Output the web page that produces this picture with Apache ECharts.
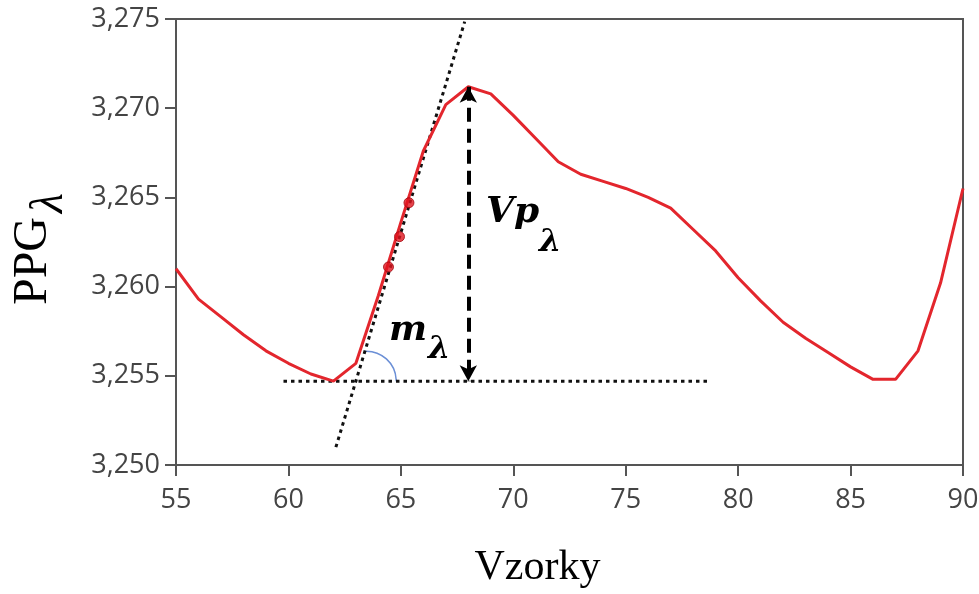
<!DOCTYPE html>
<html>
<head>
<meta charset="utf-8">
<script src="https://cdn.jsdelivr.net/npm/echarts@6/dist/echarts.min.js"></script>
<style>html,body{margin:0;padding:0;background:#fff}#c{width:979px;height:594px}</style>
</head>
<body>
<div id="c"></div>
<script>
// ---- data ----
const samples = [55,56,57,58,59,60,61,62,63,64,65,66,67,68,69,70,71,72,73,74,75,76,77,78,79,80,81,82,83,84,85,86,87,88,89,90];
const ppg = [3.2610,3.2593,3.2583,3.2573,3.2564,3.2557,3.2551,3.2547,3.2557,3.2595,3.2636,3.2676,3.2702,3.2712,3.2708,3.2696,3.2683,3.2670,3.2663,3.2659,3.2655,3.2650,3.2644,3.2632,3.2620,3.2605,3.2592,3.2580,3.2571,3.2563,3.2555,3.2548,3.2548,3.2564,3.2602,3.2655];
const slopeDots = [[64.45,3.2611],[64.94,3.2628],[65.36,3.2647]];
const tangentLine = [[62.11,3.2510],[67.84,3.27485]];
const baseLine = [[59.78,3.2547],[78.63,3.2547]];
const peakArrow = [[68.0,3.2712],[68.0,3.2547]];
const arcCenter = [63.46,3.2547];
const xTicks = {min:55, max:90, step:5};
const yTicks = {min:3.250, max:3.275, step:0.005};

const curve = samples.map((x,i)=>[x, ppg[i]]);

const chart = echarts.init(document.getElementById('c'), null, {renderer:'canvas'});
const axisGray = '#555';
const labelGray = '#444';
chart.setOption({
  animation:false,
  grid:{left:176, right:16, top:19, bottom:129, show:true, borderColor:axisGray, borderWidth:2,
    containLabel:false, outerBoundsMode:'none'},
  xAxis:{
    type:'value', min:xTicks.min, max:xTicks.max, interval:xTicks.step,
    name:'Vzorky', nameLocation:'middle', nameGap:82,
    nameTextStyle:{fontFamily:'Liberation Serif', fontSize:42, color:'#000', padding:[0,64,0,0]},
    axisLine:{show:true, onZero:false, lineStyle:{color:axisGray, width:2}},
    axisTick:{show:true, length:11, lineStyle:{color:axisGray, width:2}},
    axisLabel:{fontFamily:'Open Sans', fontSize:27, color:labelGray, margin:22},
    splitLine:{show:false}
  },
  yAxis:{
    type:'value', min:yTicks.min, max:yTicks.max, interval:yTicks.step,
    axisLine:{show:true, onZero:false, lineStyle:{color:axisGray, width:2}},
    axisTick:{show:true, length:11, lineStyle:{color:axisGray, width:2}},
    axisLabel:{fontFamily:'Open Sans', fontSize:27, color:labelGray, margin:16,
      formatter:(v)=>v.toFixed(3).replace('.', ',')},
    splitLine:{show:false}
  },
  series:[
    {type:'line', name:'tangent', data:tangentLine, symbol:'none', silent:true, z:3,
      lineStyle:{color:'#111', width:3, type:[3.5,4], cap:'butt'}},
    {type:'line', name:'baseline', data:baseLine, symbol:'none', silent:true, z:3,
      lineStyle:{color:'#111', width:3, type:[3.5,4], cap:'butt'}},
    {type:'line', name:'PPG', data:curve, symbol:'none', z:4,
      lineStyle:{color:'#e3262d', width:3},
      markLine:{silent:true, symbol:['arrow','arrow'], symbolSize:[13,16], label:{show:false},
        lineStyle:{color:'#000', width:4, type:[14,7]},
        emphasis:{disabled:true},
        data:[[{coord:peakArrow[0]},{coord:peakArrow[1]}]]}},
    {type:'scatter', name:'dots', data:slopeDots, symbolSize:10, z:5,
      itemStyle:{color:'#e0141e', borderColor:'#a3070f', borderWidth:1}}
  ]
});

const c = chart.convertToPixel({gridIndex:0}, arcCenter);
const serif = 'DejaVu Serif';
chart.setOption({
  graphic:[
    {type:'arc', shape:{cx:c[0], cy:c[1], r:30, startAngle:-1.62, endAngle:0, clockwise:true},
      style:{stroke:'#6b8fd6', lineWidth:1.5, fill:null}, z:2, silent:true},
    {type:'text', x:33, y:261, rotation:Math.PI/2,
      style:{text:'PPG', font:'48px "Liberation Serif"', fill:'#000', align:'center', verticalAlign:'middle'}},
    {type:'text', x:50, y:203, rotation:Math.PI/2,
      style:{text:'λ', font:'italic 46px "Liberation Serif"', fill:'#000', align:'center', verticalAlign:'middle'}},
    {type:'text', x:486, y:213,
      style:{text:'Vp', font:'italic bold 36px "'+serif+'"', fill:'#000', align:'left', verticalAlign:'middle'}},
    {type:'text', x:539, y:243,
      style:{text:'λ', font:'italic bold 32px "'+serif+'"', fill:'#000', align:'left', verticalAlign:'middle'}},
    {type:'text', x:389, y:331,
      style:{text:'m', font:'italic bold 36px "'+serif+'"', fill:'#000', align:'left', verticalAlign:'middle'}},
    {type:'text', x:428, y:350,
      style:{text:'λ', font:'italic bold 32px "'+serif+'"', fill:'#000', align:'left', verticalAlign:'middle'}}
  ]
});
</script>
</body>
</html>
